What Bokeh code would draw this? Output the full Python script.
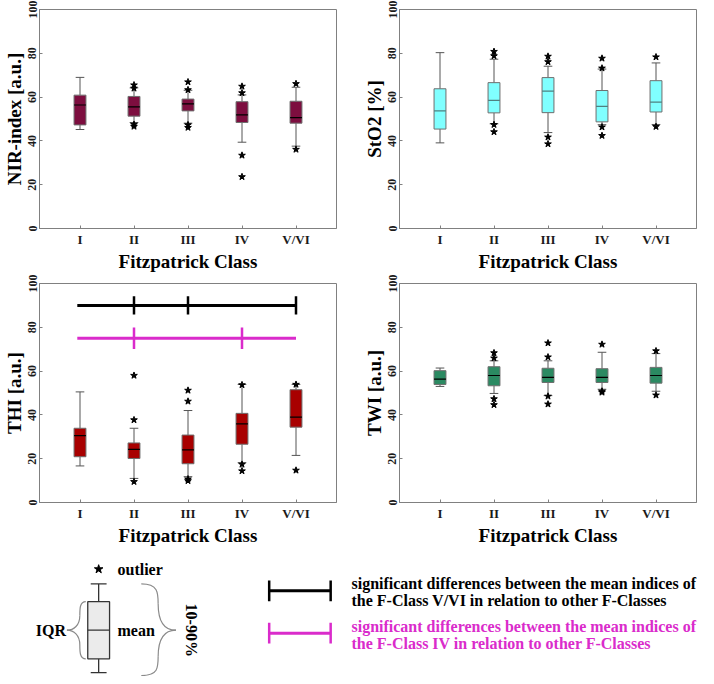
import math
from bokeh.plotting import figure
from bokeh.models import Range1d, FixedTicker, ColumnDataSource
from bokeh.layouts import column, row
from bokeh.embed import file_html
from bokeh.resources import INLINE
from bokeh.core.properties import value

# ---------------- data ----------------
classes = ["I", "II", "III", "IV", "V/VI"]
y_ticks = [0, 20, 40, 60, 80, 100]

# NIR-index [a.u.]
nir_p10 = [45.2, 48.4, 48.1, 39.4, 37.6]
nir_q1 = [47.3, 51.3, 53.7, 48.4, 48.1]
nir_med = [56.4, 55.5, 56.9, 51.9, 50.6]
nir_q3 = [60.9, 60.3, 59.1, 57.9, 58.1]
nir_p90 = [69.0, 64.2, 63.1, 61.0, 64.5]
nir_out = [[], [65.5, 64.0, 47.5, 46.6], [66.9, 63.3, 47.3, 46.1],
           [64.9, 61.9, 33.4, 23.6], [66.1, 36.1]]

# StO2 [%]
sto_p10 = [39.1, 47.8, 43.8, 47.4, 47.5]
sto_q1 = [45.4, 52.8, 52.9, 48.7, 53.2]
sto_med = [53.7, 58.5, 62.7, 55.8, 57.7]
sto_q3 = [63.8, 66.6, 68.9, 63.0, 67.5]
sto_p90 = [80.3, 77.3, 74.1, 72.8, 75.6]
sto_out = [[], [80.8, 78.8, 47.4, 44.1], [78.6, 76.1, 41.7, 38.6],
           [77.7, 73.2, 46.3, 42.4], [78.3, 46.5]]

# THI [a.u.]
thi_p10 = [16.7, 11.0, 11.8, 18.2, 21.5]
thi_q1 = [20.9, 20.1, 17.7, 26.6, 34.4]
thi_med = [30.5, 24.3, 24.0, 35.9, 39.0]
thi_q3 = [33.9, 27.2, 30.8, 40.7, 51.5]
thi_p90 = [50.5, 33.9, 42.0, 53.9, 53.9]
thi_out = [[], [58.0, 37.7, 9.5], [51.2, 46.2, 10.7, 9.9],
           [53.7, 17.4, 14.4], [53.9, 14.7]]

# TWI [a.u.]
twi_p10 = [53.0, 49.8, 48.8, 51.7, 50.8]
twi_q1 = [53.9, 53.3, 54.8, 54.8, 54.5]
twi_med = [56.3, 58.0, 57.1, 57.1, 58.0]
twi_q3 = [60.2, 62.0, 61.3, 61.1, 61.7]
twi_p90 = [61.4, 64.7, 64.7, 68.6, 68.0]
twi_out = [[], [68.3, 65.9, 47.3, 44.6], [72.8, 66.4, 48.5, 44.9],
           [72.2, 50.3, 50.8], [69.2, 49.0]]

# significance bars (THI)
sig_v_level = 90          # F-Class V/VI vs others (black)
sig_v_marks = ["II", "III", "V/VI"]
sig_iv_level = 75         # F-Class IV vs others (magenta)
sig_iv_marks = ["II", "IV"]

FONT = "Liberation Serif"
MAGENTA = "#DA2BCB"
GRAYLINE = "#808080"

BOX_W = 0.22
CAP_W = 0.16


def make_panel(ylabel, p10, q1, med, q3, p90, out, fill, med_color,
               border_left, border_right):
    p = figure(frame_width=297, frame_height=219,
               x_range=Range1d(0.25, 5.75), y_range=Range1d(0, 100),
               output_backend="svg", toolbar_location=None,
               min_border_left=border_left, min_border_right=border_right,
               min_border_top=9, min_border_bottom=42,
               background_fill_color="white", border_fill_color="white")
    p.xgrid.visible = False
    p.ygrid.visible = False
    p.outline_line_color = GRAYLINE
    p.outline_line_width = 1

    xs = list(range(1, len(classes) + 1))
    p.xaxis.ticker = FixedTicker(ticks=xs)
    p.xaxis.major_label_overrides = {x: c for x, c in zip(xs, classes)}
    p.yaxis.ticker = FixedTicker(ticks=y_ticks)
    p.yaxis.major_label_orientation = "vertical"

    for ax in (p.xaxis[0], p.yaxis[0]):
        ax.axis_line_color = GRAYLINE
        ax.major_tick_line_color = GRAYLINE
        ax.major_tick_in = 3
        ax.major_tick_out = 0
        ax.minor_tick_in = 0
        ax.minor_tick_out = 0
        ax.major_label_text_font = FONT
        ax.major_label_text_font_style = "bold"
        ax.major_label_text_color = "#1a1a1a"
        ax.axis_label_text_font = FONT
        ax.axis_label_text_font_style = "bold"
        ax.axis_label_text_font_size = "19px"
        ax.axis_label_text_color = "black"
    p.xaxis.major_label_text_font_size = "13px"
    p.yaxis.major_label_text_font_size = "12px"
    p.xaxis.major_label_standoff = 3
    p.yaxis.major_label_standoff = 3
    p.xaxis.axis_label_standoff = 1
    p.yaxis.axis_label_standoff = 1
    p.xaxis.axis_label = "Fitzpatrick Class"
    p.yaxis.axis_label = ylabel

    src = ColumnDataSource(dict(
        x=xs, p10=p10, q1=q1, med=med, q3=q3, p90=p90,
        cl=[x - CAP_W / 2 for x in xs], cr=[x + CAP_W / 2 for x in xs],
        bl=[x - BOX_W / 2 for x in xs], br=[x + BOX_W / 2 for x in xs]))
    wc = "#555555"
    # whiskers
    p.segment(x0="x", y0="p10", x1="x", y1="q1", source=src, line_color=wc, line_width=1)
    p.segment(x0="x", y0="q3", x1="x", y1="p90", source=src, line_color=wc, line_width=1)
    p.segment(x0="cl", y0="p10", x1="cr", y1="p10", source=src, line_color=wc, line_width=1)
    p.segment(x0="cl", y0="p90", x1="cr", y1="p90", source=src, line_color=wc, line_width=1)
    # boxes
    p.quad(left="bl", right="br", bottom="q1", top="q3", source=src,
           fill_color=fill, line_color="#6e6e6e", line_width=1)
    p.segment(x0="bl", y0="med", x1="br", y1="med", source=src,
              line_color=med_color, line_width=1.2)
    # outliers
    ox, oy = [], []
    for x, vals in zip(xs, out):
        for v in vals:
            ox.append(x)
            oy.append(v)
    p.scatter(ox, oy, marker="star", size=7, fill_color="black", line_color="black")
    return p


p1 = make_panel("NIR-index [a.u.]", nir_p10, nir_q1, nir_med, nir_q3, nir_p90, nir_out,
                "#7D0E3F", "black", 38, 24)
p2 = make_panel("StO2 [%]", sto_p10, sto_q1, sto_med, sto_q3, sto_p90, sto_out,
                "#80FFFF", "#4F8080", 38, 4)
p3 = make_panel("THI [a.u.]", thi_p10, thi_q1, thi_med, thi_q3, thi_p90, thi_out,
                "#A80000", "black", 38, 24)
p4 = make_panel("TWI [a.u.]", twi_p10, twi_q1, twi_med, twi_q3, twi_p90, twi_out,
                "#2B8A62", "black", 38, 4)

# significance bars on THI panel
pos = {c: i + 1 for i, c in enumerate(classes)}
for level, marks, col, half in ((sig_v_level, sig_v_marks, "black", 4.2),
                                (sig_iv_level, sig_iv_marks, MAGENTA, 4.9)):
    p3.segment(x0=[pos["I"] - 0.05], y0=[level], x1=[pos["V/VI"]], y1=[level],
               line_color=col, line_width=3)
    mx = [pos[m] for m in marks]
    p3.segment(x0=mx, y0=[level - half] * len(mx), x1=mx, y1=[level + half] * len(mx),
               line_color=col, line_width=2.5)

# ---------------- legend / schematic ----------------
leg = figure(width=698, height=128, x_range=Range1d(6, 710), y_range=Range1d(681, 551),
             x_axis_type=None, y_axis_type=None, output_backend="svg",
             toolbar_location=None, min_border=0, min_border_left=0,
             min_border_right=0, min_border_top=0, min_border_bottom=0)
leg.xgrid.visible = False
leg.ygrid.visible = False
leg.outline_line_color = None

TF = value(FONT)
# schematic box plot
sk_x, sk_half, sk_cap = 105, 11, 8
sk_p90, sk_q3, sk_med, sk_q1, sk_p10 = 587, 605, 634, 663, 677
leg.segment(x0=[sk_x, sk_x], y0=[sk_p90, sk_q1], x1=[sk_x, sk_x], y1=[sk_q3, sk_p10],
            line_color="#333333", line_width=1.3)
leg.segment(x0=[sk_x - sk_cap] * 2, y0=[sk_p90, sk_p10], x1=[sk_x + sk_cap] * 2,
            y1=[sk_p90, sk_p10], line_color="#333333", line_width=1.3)
leg.quad(left=[sk_x - sk_half], right=[sk_x + sk_half], top=[sk_q3], bottom=[sk_q1],
         fill_color="#EBEBEB", line_color="#333333", line_width=1.3)
leg.segment(x0=[sk_x - sk_half], y0=[sk_med], x1=[sk_x + sk_half], y1=[sk_med],
            line_color="#333333", line_width=1.2)
leg.scatter([sk_x], [572], marker="star", size=9, fill_color="black", line_color="black")
leg.text(x=[124], y=[572], text=["outlier"], text_font=TF, text_font_style="bold",
         text_font_size="16px", text_baseline="middle", text_align="left")
leg.text(x=[124], y=[sk_med], text=["mean"], text_font=TF, text_font_style="bold",
         text_font_size="16px", text_baseline="middle", text_align="left")
leg.text(x=[72], y=[sk_med], text=["IQR"], text_font=TF, text_font_style="bold",
         text_font_size="16px", text_baseline="middle", text_align="right")
leg.text(x=[199], y=[sk_med], text=["10-90%"], text_font=TF, text_font_style="bold",
         text_font_size="16px", text_baseline="middle", text_align="center",
         angle=-math.pi / 2)

# braces
bc = "#8a8a8a"
# IQR brace (tip to the left)
leg.bezier(x0=[92, 86, 92, 86], y0=[605, 619, 663, 649],
           x1=[86, 73, 86, 73], y1=[619, 634, 649, 634],
           cx0=[86, 86, 86, 86], cy0=[605, 629, 663, 639],
           cx1=[86, 80, 86, 80], cy1=[612, 634, 656, 634],
           line_color=bc, line_width=1.2)
# 10-90% brace (tip to the right)
leg.bezier(x0=[148, 165, 148, 165], y0=[587, 607, 680, 661],
           x1=[165, 183, 165, 183], y1=[607, 634, 661, 634],
           cx0=[165, 165, 165, 165], cy0=[587, 627, 680, 641],
           cx1=[165, 172, 165, 172], cy1=[596, 634, 672, 634],
           line_color=bc, line_width=1.2)

# significance legend
for yc, col in ((594, "black"), (637, MAGENTA)):
    leg.segment(x0=[277], y0=[yc], x1=[339], y1=[yc], line_color=col, line_width=3)
    leg.segment(x0=[277, 339], y0=[yc - 10.5] * 2, x1=[277, 339], y1=[yc + 10.5] * 2,
                line_color=col, line_width=2.5)

leg.text(x=[360, 360], y=[587, 604],
         text=["significant differences between the mean indices of",
               "the F-Class V/VI in relation to other F-Classes"],
         text_font=TF, text_font_style="bold", text_font_size="16px",
         text_baseline="middle", text_align="left", text_color="black")
leg.text(x=[360, 360], y=[630, 647],
         text=["significant differences between the mean indices of",
               "the F-Class IV in relation to other F-Classes"],
         text_font=TF, text_font_style="bold", text_font_size="16px",
         text_baseline="middle", text_align="left", text_color=MAGENTA)

layout = column(row(p1, p2), row(p3, p4), leg)
open("out.html", "w").write(file_html(layout, INLINE))
